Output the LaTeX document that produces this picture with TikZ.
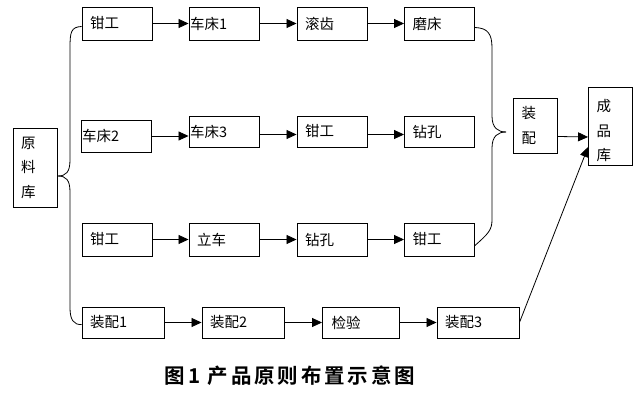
\documentclass[tikz,border=0pt]{standalone}
\usepackage{fontspec}
\usepackage{tikz}
\usetikzlibrary{positioning,calc,arrows.meta}
\newfontfamily\cjk{Noto Sans CJK SC}
\newfontfamily\cjkbold{Noto Sans CJK SC Bold}[LetterSpace=14]
\tikzset{
  box/.style={draw, line width=0.9pt, minimum height=33pt, inner xsep=8pt, inner ysep=0pt,
    text width=54pt, align=left, font=\cjk\fontsize{14.5}{16}\selectfont},
  wide/.style={text width=66pt, minimum height=31pt},
  flush/.style={inner xsep=1pt, text width=68pt},
  vbox/.style={draw, line width=0.9pt, inner xsep=8pt, inner ysep=0pt, text width=28pt,
    align=left, font=\cjk\fontsize{14.5}{24.5}\selectfont},
  arr/.style={line width=0.8pt, -{Triangle[length=10pt,width=9pt]}},
  brace/.style={line width=0.8pt}
}
\begin{document}
\begin{tikzpicture}[x=1pt,y=-1pt]
    \useasboundingbox (0,0) rectangle (640,403);
    % Raw material store
    \node[vbox, minimum height=79pt] (raw) at (35,167.5) {原\\料\\库};
    % Row 1
    \node[box] (a1) at (117,23.5) {钳工};
    \node[box, flush] (a2) at (224,23.5) {车床1};
    \node[box] (a3) at (332,23.5) {滚齿};
    \node[box] (a4) at (439.5,23.5) {磨床};
    \draw[arr] (a1) -- (a2);
    \draw[arr] (a2) -- (a3);
    \draw[arr] (a3) -- (a4);
    % Row 2
    \node[box, flush, minimum height=32pt] (b1) at (116,136) {车床2};
    \node[box, flush, minimum height=31pt] (b2) at (224,131.5) {车床3};
    \node[box, minimum height=31pt] (b3) at (332,131.5) {钳工};
    \node[box, minimum height=31pt] (b4) at (439.5,131.5) {钻孔};
    \draw[arr] (b1.east) -- (b1.east -| b2.west);
    \draw[arr] ([yshift=-3pt]b2.east) -- ([yshift=-3pt]b3.west);
    \draw[arr] ([yshift=-3pt]b3.east) -- ([yshift=-3pt]b4.west);
    % Row 3
    \node[box] (c1) at (117,239.5) {钳工};
    \node[box] (c2) at (224,239.5) {立车};
    \node[box] (c3) at (332,239.5) {钻孔};
    \node[box] (c4) at (439.5,239.5) {钳工};
    \draw[arr] (c1) -- (c2);
    \draw[arr] (c2) -- (c3);
    \draw[arr] (c3) -- (c4);
    % Row 4
    \node[box, wide] (d1) at (123,322.5) {装配1};
    \node[box, wide] (d2) at (243,322.5) {装配2};
    \node[box, wide, text width=59pt, inner xsep=9pt] (d3) at (361,322.5) {检验};
    \node[box, wide] (d4) at (478,322.5) {装配3};
    \draw[arr] (d1) -- (d2);
    \draw[arr] (d2) -- (d3);
    \draw[arr] (d3) -- (d4);
    % Assembly and finished goods store
    \node[vbox, minimum height=55pt] (asm) at (535.5,125.5) {装\\配};
    \node[vbox, minimum height=78pt, text depth=41pt] (store) at (610.5,126) {成\\品\\库};
    \draw[arr] ([yshift=-11pt]asm.east) -- ([yshift=-11pt]store.west);
    \draw[arr] (d4.east) -- ([yshift=-21pt]store.west);
    % Left brace
    \coordinate (tipL) at (58,176);
    \draw[brace] ([yshift=-3pt]a1.west) .. controls (71,27) and (70,32) .. (70,48)
      -- (70,160) .. controls (70,172) and (66,176) .. (tipL);
    \draw[brace] (tipL) .. controls (66,176) and (70,180) .. (70,192)
      -- (70,308) .. controls (70,320) and (74,325) .. ([yshift=-2pt]d1.west);
    % Right brace
    \coordinate (tipR) at (506,132);
    \draw[brace] ([yshift=-4pt]a4.east) .. controls (488,28) and (492,34) .. (492,48)
      -- (492,116) .. controls (492,128) and (498,132) .. (tipR);
    \draw[brace] (tipR) .. controls (498,132) and (492,136) .. (492,148)
      -- (492,220) .. controls (492,230) and (488,234) .. ([yshift=-6pt]c4.east);
    % Caption
    \node[font=\cjkbold\fontsize{20.5}{22}\selectfont] (cap) at (290,376) {图1 产品原则布置示意图};
\end{tikzpicture}
\end{document}
